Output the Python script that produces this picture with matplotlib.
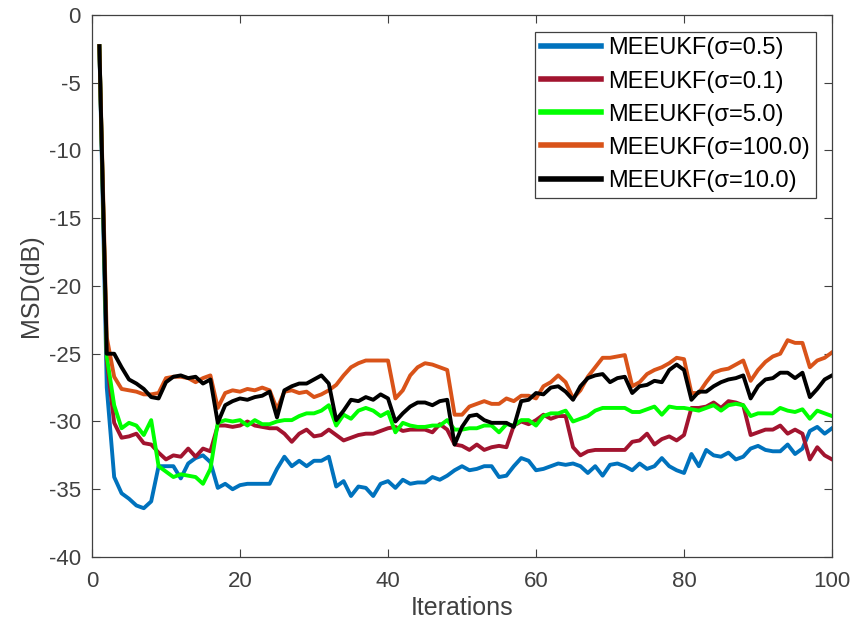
import numpy as np
import matplotlib
matplotlib.use("Agg")
import matplotlib.pyplot as plt

iterations = np.arange(1, 101)

msd_s05 = [-2.3, -27.5, -34.1, -35.3, -35.7, -36.2, -36.4, -35.9, -33.3, -33.3,
           -33.3, -34.2, -33.1, -32.7, -32.5, -33.0, -34.9, -34.6, -35.0, -34.7,
           -34.6, -34.6, -34.6, -34.6, -33.5, -32.6, -33.3, -32.9, -33.3, -32.9,
           -32.9, -32.6, -34.8, -34.4, -35.5, -34.8, -34.9, -35.5, -34.6, -34.4,
           -34.9, -34.3, -34.6, -34.5, -34.5, -34.1, -34.3, -34.0, -33.6, -33.3,
           -33.6, -33.5, -33.3, -33.3, -34.1, -34.0, -33.3, -32.7, -32.9, -33.6,
           -33.5, -33.3, -33.1, -33.2, -33.1, -33.3, -33.8, -33.3, -34.0, -33.2,
           -33.1, -33.3, -33.6, -33.1, -33.5, -33.3, -32.7, -33.3, -33.6, -33.8,
           -32.4, -33.3, -32.1, -32.5, -32.6, -32.3, -32.8, -32.6, -32.0, -31.8,
           -32.1, -32.2, -32.2, -31.7, -32.4, -32.0, -30.7, -30.4, -30.9, -30.5]

msd_s01 = [-2.3, -25.5, -30.1, -31.2, -31.1, -30.9, -31.6, -31.7, -32.3, -32.8,
           -32.5, -32.6, -32.0, -32.6, -32.0, -32.2, -30.3, -30.3, -30.4, -30.3,
           -30.0, -30.3, -30.4, -30.5, -30.5, -30.9, -31.5, -30.9, -30.6, -31.1,
           -31.0, -30.6, -31.0, -31.4, -31.2, -31.0, -30.9, -30.9, -30.7, -30.5,
           -30.4, -30.7, -30.6, -30.6, -30.6, -30.8, -30.2, -30.6, -31.7, -31.8,
           -32.1, -31.7, -32.1, -31.9, -31.8, -31.9, -30.3, -30.0, -30.2, -29.9,
           -29.5, -29.8, -29.6, -29.6, -31.9, -32.5, -32.2, -32.1, -32.1, -32.1,
           -32.1, -32.1, -31.5, -31.4, -30.9, -31.7, -31.3, -31.1, -31.4, -31.0,
           -29.0, -29.0, -28.9, -28.6, -29.0, -28.5, -28.6, -28.8, -31.0, -30.8,
           -30.6, -30.6, -30.3, -30.9, -30.6, -30.9, -32.8, -31.9, -32.5, -32.8]

msd_s5 = [-2.3, -25.2, -28.8, -30.5, -30.1, -30.3, -31.0, -29.9, -33.3, -33.7,
          -34.1, -33.9, -34.0, -34.1, -34.6, -33.5, -30.1, -29.9, -30.0, -29.9,
          -30.3, -29.9, -30.2, -30.2, -30.0, -29.9, -29.9, -29.6, -29.4, -29.4,
          -29.2, -28.8, -30.3, -29.5, -29.8, -29.2, -29.0, -29.2, -29.6, -29.3,
          -30.8, -30.1, -30.3, -30.4, -30.4, -30.3, -30.3, -29.9, -30.6, -30.6,
          -30.5, -30.5, -30.3, -30.3, -30.8, -30.2, -30.3, -29.9, -29.9, -30.3,
          -29.6, -29.4, -29.4, -29.2, -30.0, -29.8, -29.6, -29.2, -29.0, -29.0,
          -29.0, -29.0, -29.3, -29.3, -29.1, -28.9, -29.5, -28.9, -29.0, -29.0,
          -29.1, -29.2, -29.0, -28.8, -29.2, -28.8, -28.7, -28.8, -29.6, -29.4,
          -29.4, -29.4, -29.0, -29.2, -29.3, -29.1, -29.8, -29.2, -29.4, -29.6]

msd_s100 = [-2.3, -23.8, -26.7, -27.6, -27.7, -27.8, -28.0, -28.0, -27.9, -26.8,
            -26.7, -26.7, -26.8, -27.1, -26.8, -26.6, -29.0, -27.9, -27.7, -27.8,
            -27.6, -27.7, -27.5, -27.7, -29.1, -27.8, -27.7, -27.9, -27.8, -28.2,
            -28.0, -27.7, -27.3, -26.6, -26.0, -25.7, -25.5, -25.5, -25.5, -25.5,
            -28.3, -27.7, -26.6, -26.0, -25.7, -25.8, -26.0, -26.2, -29.5, -29.5,
            -28.9, -28.7, -28.5, -28.7, -28.7, -28.3, -28.5, -28.1, -28.1, -28.3,
            -27.4, -27.1, -26.6, -27.1, -28.3, -27.7, -26.7, -26.0, -25.3, -25.3,
            -25.2, -25.1, -27.4, -27.1, -26.5, -26.2, -26.0, -25.7, -25.3, -25.4,
            -27.9, -27.9, -27.1, -26.4, -26.2, -26.1, -25.8, -25.5, -27.0, -26.2,
            -25.6, -25.2, -25.0, -24.0, -24.2, -24.2, -26.0, -25.5, -25.3, -24.9]

msd_s10 = [-2.3, -25.0, -25.0, -26.0, -26.9, -27.2, -27.6, -28.2, -28.3, -27.1,
           -26.7, -26.6, -26.8, -26.7, -27.2, -26.9, -30.1, -28.8, -28.5, -28.3,
           -28.4, -28.2, -28.1, -27.8, -29.7, -27.7, -27.4, -27.2, -27.2, -26.9,
           -26.6, -27.2, -29.9, -29.2, -28.4, -28.5, -28.2, -28.4, -28.0, -28.3,
           -30.0, -29.4, -28.9, -28.6, -28.6, -28.8, -28.5, -28.4, -31.7, -30.4,
           -29.6, -29.5, -29.9, -30.1, -30.1, -30.1, -30.4, -28.5, -28.4, -27.9,
           -28.0, -27.5, -27.4, -27.8, -28.4, -27.4, -26.8, -26.6, -26.5, -27.1,
           -26.8, -26.7, -27.9, -27.4, -27.3, -27.0, -27.1, -26.2, -25.8, -26.2,
           -28.4, -27.8, -27.8, -27.4, -27.1, -26.9, -26.8, -26.6, -28.3, -27.4,
           -26.9, -26.8, -26.4, -26.4, -26.8, -26.4, -28.2, -27.6, -26.9, -26.6]

labels = ["MEEUKF(σ=0.5)", "MEEUKF(σ=0.1)", "MEEUKF(σ=5.0)",
          "MEEUKF(σ=100.0)", "MEEUKF(σ=10.0)"]
colors = ["#0072BD", "#A2142F", "#00FF00", "#D95319", "#000000"]
series = [msd_s05, msd_s01, msd_s5, msd_s100, msd_s10]

plt.rcParams['font.family'] = ['Liberation Sans', 'DejaVu Sans']
plt.rcParams['axes.unicode_minus'] = False

fig = plt.figure(figsize=(8.54, 6.24), dpi=100)
ax = fig.add_axes([0.1077, 0.1074, 0.8666, 0.8686])

for y, c, lab in zip(series, colors, labels):
    ax.plot(iterations, y, color=c, linewidth=2.8, label=lab)

ax.set_xlim(0, 100)
ax.set_ylim(-40, 0)
ax.set_xticks(np.arange(0, 101, 20))
ax.set_yticks(np.arange(-40, 1, 5))
ax.tick_params(direction='in', length=5.5, width=0.8, labelsize=16,
               colors='#404040', top=True, right=True)
ax.tick_params(axis='x', pad=10)
ax.tick_params(axis='y', pad=8)
for s in ax.spines.values():
    s.set_color('#404040')
    s.set_linewidth(0.9)

ax.set_xlabel("Iterations", fontsize=18, color='#404040', labelpad=3)
ax.set_ylabel("MSD(dB)", fontsize=18, color='#404040', labelpad=4)

leg = ax.legend(loc='upper right', fontsize=17, handlelength=2.55,
                handletextpad=0.3, borderpad=0.25, labelspacing=0.47,
                borderaxespad=0.7, fancybox=False, framealpha=1)
leg.get_frame().set_edgecolor('#404040')
leg.get_frame().set_linewidth(0.9)
for line in leg.get_lines():
    line.set_linewidth(4)

fig.savefig("out.png", dpi=100)
